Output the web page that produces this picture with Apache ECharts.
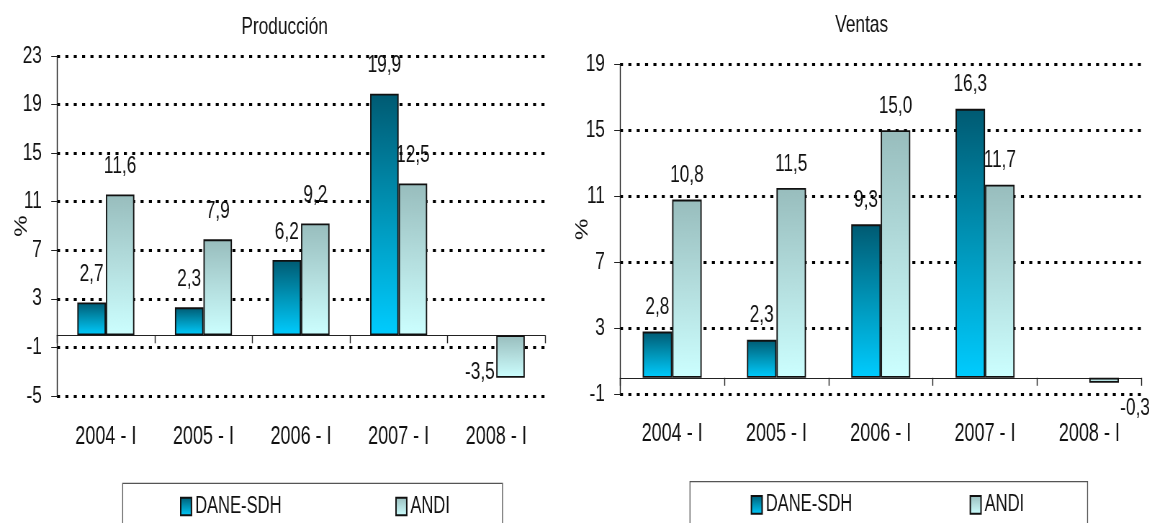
<!DOCTYPE html>
<html><head><meta charset="utf-8">
<script src="https://cdn.jsdelivr.net/npm/echarts@6/dist/echarts.min.js"></script>
<style>
html,body{margin:0;padding:0;background:#fff;overflow:hidden;width:1149px;height:523px}
/* the reference's text is horizontally condensed; draw on a wider canvas and squeeze it */
#c{width:1596px;height:523px;transform:scaleX(0.72);transform-origin:0 0}
</style>
</head><body><div id="c"></div>
<script>
const categories = ['2004 - I', '2005 - I', '2006 - I', '2007 - I', '2008 - I'];
const seriesNames = ['DANE-SDH', 'ANDI'];
const prodDane = [2.7, 2.3, 6.2, 19.9, null];
const prodAndi = [11.6, 7.9, 9.2, 12.5, -3.5];
const ventDane = [2.8, 2.3, 9.3, 16.3, null];
const ventAndi = [10.8, 11.5, 15.0, 11.7, -0.3];
const prodTicks = [-5, -1, 3, 7, 11, 15, 19, 23];
const ventTicks = [-1, 3, 7, 11, 15, 19];
const titles = ['Producción', 'Ventas'];
const yName = '%';

const FONT = "'Liberation Sans', Arial, sans-serif";
const TXT = '#111';
const fmt = v => (v == null ? '' : Number(v).toFixed(1).replace('.', ','));

const gradDane = new echarts.graphic.LinearGradient(0, 0, 0, 1, [
  { offset: 0, color: '#005a72' }, { offset: 0.5, color: '#0095b8' }, { offset: 1, color: '#00ccff' }]);
const gradAndi = new echarts.graphic.LinearGradient(0, 0, 0, 1, [
  { offset: 0, color: '#98bdbd' }, { offset: 0.5, color: '#b4dede' }, { offset: 1, color: '#ccffff' }]);

const grids = [
  { left: 79.2, top: 56, width: 677.8, height: 340 },
  { left: 861.1, top: 64.3, width: 724.3, height: 330 }
];

function yAxisFor(ticks, gi, gap) {
  return {
    type: 'value', gridIndex: gi,
    min: ticks[0], max: ticks[ticks.length - 1], interval: ticks[1] - ticks[0],
    name: yName, nameLocation: 'middle', nameGap: gap, nameRotate: 90, nameMoveOverlap: false,
    nameTextStyle: { fontSize: 24, fontFamily: FONT, color: TXT },
    axisLine: { show: true, lineStyle: { color: '#222', width: 1.4 } },
    axisTick: { show: true, length: 8, lineStyle: { color: '#222', width: 1 } },
    axisLabel: { fontSize: 24, fontFamily: FONT, color: TXT, margin: 21 },
    splitLine: { show: true, lineStyle: { color: '#000', width: 3, type: [4.2, 7.4] } }
  };
}
function xAxesFor(gi, margin) {
  return [{
    type: 'category', gridIndex: gi, data: categories, position: 'bottom',
    axisLine: { show: true, onZero: true, lineStyle: { color: '#222', width: 1 } },
    axisTick: { show: true, length: 8, lineStyle: { color: '#222', width: 1.4 } },
    axisLabel: { show: false }, splitLine: { show: false }
  }, {
    type: 'category', gridIndex: gi, data: categories, position: 'bottom',
    axisLine: { show: false, onZero: false }, axisTick: { show: false },
    axisLabel: { show: true, fontSize: 25, fontFamily: FONT, color: TXT, margin: margin },
    splitLine: { show: false }
  }];
}
function items(values, negLabel) {
  return values.map(v => (v != null && v < 0) ? { value: v, label: negLabel } : v);
}
function barSeries(name, values, grad, gi, bw, dist, negLabel) {
  return {
    type: 'bar', name: name, xAxisIndex: gi * 2, yAxisIndex: gi,
    data: items(values, negLabel), barWidth: bw, barGap: '0%',
    itemStyle: { color: grad, borderColor: '#111', borderWidth: 1.8 },
    label: { show: true, position: 'top', distance: dist, formatter: p => fmt(p.value),
      fontSize: 24, fontFamily: FONT, color: TXT },
    emphasis: { disabled: true }
  };
}
function legendFor(left, top, gap, pad) {
  return {
    left: left, top: top, data: seriesNames, icon: 'rect', itemWidth: 14.9, itemHeight: 17.7,
    itemGap: gap, padding: pad, borderColor: '#555', borderWidth: 1.3,
    textStyle: { fontSize: 23, fontFamily: FONT, color: TXT }, selectedMode: false
  };
}

const option = {
  animation: false,
  backgroundColor: '#fff',
  title: [
    { text: titles[0], left: 390.3, top: 10, textAlign: 'center',
      textStyle: { fontSize: 24, fontWeight: 'normal', fontFamily: FONT, color: TXT } },
    { text: titles[1], left: 1191.7, top: 8, textAlign: 'center',
      textStyle: { fontSize: 24, fontWeight: 'normal', fontFamily: FONT, color: TXT } }
  ],
  grid: grids,
  xAxis: [...xAxesFor(0, 29), ...xAxesFor(1, 27)],
  yAxis: [yAxisFor(prodTicks, 0, 36.6), yAxisFor(ventTicks, 1, 39.4)],
  legend: [
    legendFor(170.4, 483.3, 158, [11.7, 73, 40, 79.6]),
    legendFor(958.3, 481.7, 163, [11.6, 88, 40, 84.3])
  ],
  series: [
    barSeries(seriesNames[0], prodDane, gradDane, 0, 39.6, 16, null),
    barSeries(seriesNames[1], prodAndi, gradAndi, 0, 39.6, 16,
      { position: 'left', distance: 2, offset: [0, 16] }),
    barSeries(seriesNames[0], ventDane, gradDane, 1, 41, 12, null),
    barSeries(seriesNames[1], ventAndi, gradAndi, 1, 41, 12,
      { position: 'bottom', distance: 14, offset: [43, 0] })
  ]
};
const chart = echarts.init(document.getElementById('c'), null, { renderer: 'canvas' });
chart.setOption(option);
</script></body></html>
